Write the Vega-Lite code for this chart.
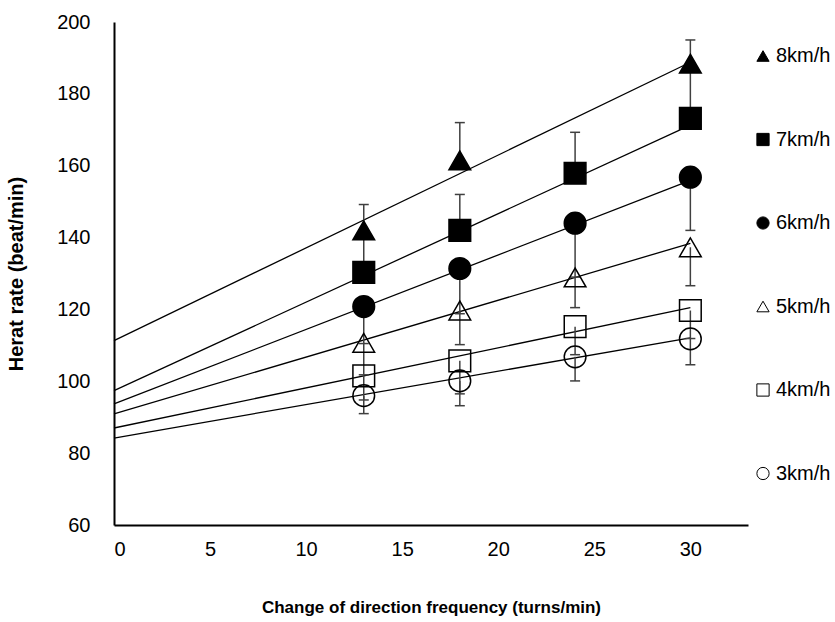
{
  "$schema": "https://vega.github.io/schema/vega-lite/v6.json",
  "autosize": {"type": "none"},
  "padding": {"left": 114, "top": 22, "right": 87, "bottom": 97},
  "width": 634,
  "height": 503,
  "background": "white",
  "config": {
    "view": {"stroke": null},
    "font": "Liberation Sans",
    "axis": {
      "grid": false,
      "ticks": false,
      "domainColor": "black",
      "domainWidth": 2,
      "labelFont": "Liberation Sans",
      "labelFontSize": 20,
      "labelColor": "black",
      "titleColor": "black",
      "titleFontWeight": "bold"
    },
    "legend": {
      "title": null,
      "orient": "none",
      "legendX": 639,
      "legendY": 24,
      "padding": 0,
      "rowPadding": 63.5,
      "labelFont": "Liberation Sans",
      "labelFontSize": 20,
      "labelColor": "black",
      "labelOffset": 3,
      "symbolSize": 150,
      "symbolStrokeWidth": 1,
      "symbolOpacity": 1
    }
  },
  "datasets": {
    "pts": [
      {"speed": "8km/h", "x": 13, "y": 142.0, "err": 149.2},
      {"speed": "8km/h", "x": 18, "y": 161.5, "err": 172.0},
      {"speed": "8km/h", "x": 30, "y": 188.4, "err": 195.0},
      {"speed": "7km/h", "x": 13, "y": 130.3, "err": 141.0},
      {"speed": "7km/h", "x": 18, "y": 142.0, "err": 152.0},
      {"speed": "7km/h", "x": 24, "y": 157.9, "err": 169.3},
      {"speed": "7km/h", "x": 30, "y": 173.2, "err": 187.0},
      {"speed": "6km/h", "x": 13, "y": 120.8, "err": 110.5},
      {"speed": "6km/h", "x": 18, "y": 131.4, "err": 118.8},
      {"speed": "6km/h", "x": 24, "y": 144.0, "err": 129.0},
      {"speed": "6km/h", "x": 30, "y": 156.8, "err": 142.0},
      {"speed": "5km/h", "x": 13, "y": 110.7, "err": 101.8},
      {"speed": "5km/h", "x": 18, "y": 119.7, "err": 110.2},
      {"speed": "5km/h", "x": 24, "y": 128.9, "err": 120.5},
      {"speed": "5km/h", "x": 30, "y": 137.3, "err": 126.6},
      {"speed": "4km/h", "x": 13, "y": 101.5, "err": 94.8},
      {"speed": "4km/h", "x": 18, "y": 105.7, "err": 96.5},
      {"speed": "4km/h", "x": 24, "y": 115.2, "err": 107.4},
      {"speed": "4km/h", "x": 30, "y": 119.7, "err": 111.9},
      {"speed": "3km/h", "x": 13, "y": 96.0, "err": 91.0},
      {"speed": "3km/h", "x": 18, "y": 100.1, "err": 93.2},
      {"speed": "3km/h", "x": 24, "y": 106.8, "err": 100.1},
      {"speed": "3km/h", "x": 30, "y": 111.8, "err": 104.6}
    ],
    "trend": [
      {"speed": "8km/h", "x": 0, "y": 111.3},
      {"speed": "8km/h", "x": 30, "y": 188.8},
      {"speed": "7km/h", "x": 0, "y": 97.4},
      {"speed": "7km/h", "x": 30, "y": 171.3},
      {"speed": "6km/h", "x": 0, "y": 93.7},
      {"speed": "6km/h", "x": 30, "y": 155.9},
      {"speed": "5km/h", "x": 0, "y": 90.9},
      {"speed": "5km/h", "x": 30, "y": 138.4},
      {"speed": "4km/h", "x": 0, "y": 87.0},
      {"speed": "4km/h", "x": 30, "y": 120.5},
      {"speed": "3km/h", "x": 0, "y": 84.2},
      {"speed": "3km/h", "x": 30, "y": 112.1}
    ]
  },
  "encoding": {
    "x": {
      "field": "x", "type": "quantitative",
      "scale": {"domain": [0, 33], "nice": false, "zero": false},
      "axis": {
        "values": [0, 5, 10, 15, 20, 25, 30],
        "labelPadding": 14,
        "title": "Change of direction frequency (turns/min)",
        "titleFont": "Liberation Sans",
        "titleFontSize": 17,
        "titlePadding": 40
      }
    },
    "y": {
      "field": "y", "type": "quantitative",
      "scale": {"domain": [60, 200], "nice": false, "zero": false},
      "axis": {
        "values": [60, 80, 100, 120, 140, 160, 180, 200],
        "labelPadding": 24,
        "title": "Herat rate (beat/min)",
        "titleFont": "Liberation Sans",
        "titleFontSize": 20,
        "titlePadding": 30
      }
    }
  },
  "layer": [
    {
      "data": {"name": "trend"},
      "mark": {"type": "line", "color": "black", "strokeWidth": 1.3},
      "encoding": {"detail": {"field": "speed"}}
    },
    {
      "data": {"name": "pts"},
      "mark": {"type": "rule", "color": "#404040", "strokeWidth": 1.5},
      "encoding": {"y2": {"field": "err"}}
    },
    {
      "data": {"name": "pts"},
      "mark": {"type": "point", "shape": "stroke", "size": 100, "stroke": "#404040", "strokeWidth": 1.5, "opacity": 1},
      "encoding": {"y": {"field": "err", "type": "quantitative"}}
    },
    {
      "data": {"name": "pts"},
      "mark": {"type": "point", "size": 470, "strokeWidth": 1.5, "opacity": 1},
      "encoding": {
        "shape": {
          "field": "speed", "type": "nominal",
          "scale": {
            "domain": ["8km/h", "7km/h", "6km/h", "5km/h", "4km/h", "3km/h"],
            "range": ["triangle-up", "square", "circle", "triangle-up", "square", "circle"]
          }
        },
        "fill": {
          "field": "speed", "type": "nominal",
          "scale": {
            "domain": ["8km/h", "7km/h", "6km/h", "5km/h", "4km/h", "3km/h"],
            "range": ["black", "black", "black", "transparent", "transparent", "transparent"]
          }
        },
        "stroke": {
          "field": "speed", "type": "nominal",
          "scale": {
            "domain": ["8km/h", "7km/h", "6km/h", "5km/h", "4km/h", "3km/h"],
            "range": ["black", "black", "black", "black", "black", "black"]
          }
        }
      }
    }
  ]
}
